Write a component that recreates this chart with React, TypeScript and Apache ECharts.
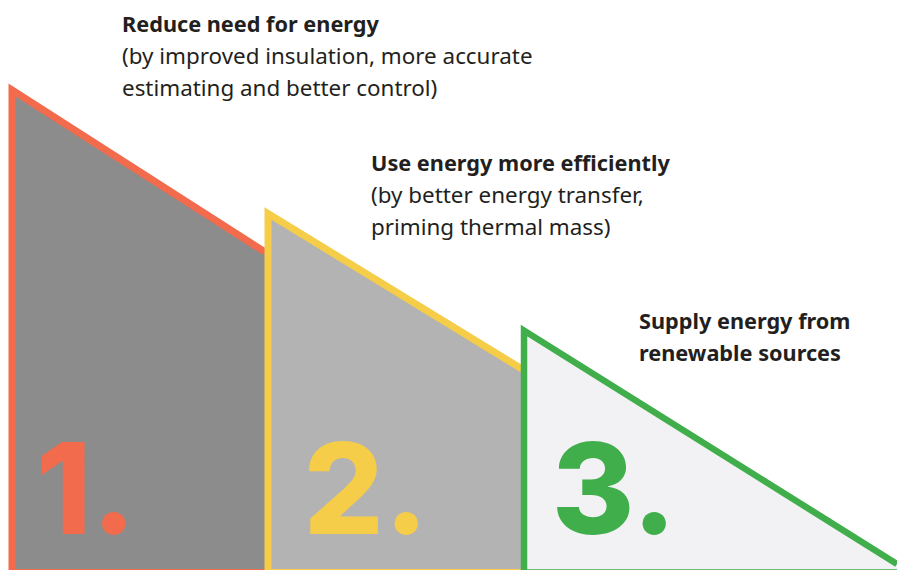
import React, { useEffect, useRef } from "react";
import * as echarts from "echarts";

// Steps of the energy hierarchy
const stepNumbers = ["1.", "2.", "3."];
const headings = ["Reduce need for energy", "Use energy more efficiently", "Supply energy from\nrenewable sources"];
const details = [
  "(by improved insulation, more accurate\nestimating and better control)",
  "(by better energy transfer,\npriming thermal mass)",
  "",
];
// Shape geometry in axis units (x: 0..897, height: 0..570)
const startX = [12, 268, 524];
const startHeight = [480, 356.5, 239.5];
const endX = [265, 522, 897];
const endHeight = [318, 201, 6];

// Layout (positions) kept separately
const headingAnchorX = [122, 371, 639];
const headingAnchorH = [547, 407.5, 250];
const numberCenterX = [86, 366, 614];
const numberAnchorH = 82;

const strokeColors = ["#f26b4d", "#f5cd48", "#40ae4a"];
const fillColors = ["#8c8c8c", "#b3b3b3", "#f2f2f4"];
const strokeWidths = [7, 7, 6.5];
const textColor = "#231f20";
const bodyFont = "'Noto Sans', 'Open Sans', sans-serif";

export default function App() {
  const ref = useRef<HTMLDivElement>(null);
  useEffect(() => {
    if (!ref.current) return;
    const chart = echarts.init(ref.current, undefined, { renderer: "svg" });
    const data = stepNumbers.map((_, i) => [startX[i], startHeight[i], endX[i], endHeight[i]]);
    const bottomValue = -2.5;
    chart.setOption({
      animation: false,
      grid: { left: 0, right: 0, top: 0, bottom: 0 },
      xAxis: { type: "value", min: 0, max: 897, show: false },
      yAxis: { type: "value", min: 0, max: 570, show: false },
      series: [
        {
          type: "custom",
          clip: false,
          data,
          renderItem: (params: any, api: any) => {
            const i = params.dataIndex;
            const x0 = api.value(0);
            const h0 = api.value(1);
            const x1 = api.value(2);
            const h1 = api.value(3);
            const tl = api.coord([x0, h0]);
            const tr = api.coord([x1, h1]);
            const bl = api.coord([x0, bottomValue]);
            const br = api.coord([x1, bottomValue]);
            const hp = api.coord([headingAnchorX[i], headingAnchorH[i]]);
            const np = api.coord([numberCenterX[i], numberAnchorH]);
            const lineH = 32;
            const children: any[] = [
              {
                type: "polygon",
                shape: { points: [bl, tl, tr, br] },
                style: { fill: fillColors[i], stroke: null },
              },
              {
                type: "polyline",
                shape: { points: [br, bl, tl, tr] },
                style: {
                  fill: null,
                  stroke: strokeColors[i],
                  lineWidth: strokeWidths[i],
                  lineJoin: "miter",
                  lineCap: "butt",
                },
              },
              {
                type: "text",
                style: {
                  text: stepNumbers[i],
                  x: np[0],
                  y: np[1],
                  fill: strokeColors[i],
                  fontSize: 126,
                  fontWeight: 800,
                  fontFamily: "Inter, 'Noto Sans', sans-serif",
                  align: "center",
                  verticalAlign: "middle",
                },
              },
              {
                type: "text",
                style: {
                  text: headings[i],
                  x: hp[0],
                  y: hp[1] - lineH / 2,
                  fill: textColor,
                  fontSize: 21.7,
                  fontWeight: "bold",
                  fontFamily: bodyFont,
                  lineHeight: lineH,
                  align: "left",
                  verticalAlign: "top",
                },
              },
            ];
            if (details[i]) {
              children.push({
                type: "text",
                style: {
                  text: details[i],
                  x: hp[0],
                  y: hp[1] + lineH / 2,
                  fill: textColor,
                  fontSize: 22.4,
                  fontWeight: "normal",
                  fontFamily: bodyFont,
                  lineHeight: lineH,
                  align: "left",
                  verticalAlign: "top",
                },
              });
            }
            return { type: "group", children };
          },
        },
      ],
    });
    return () => chart.dispose();
  }, []);
  return (
    <div
      ref={ref}
      style={{ position: "fixed", left: 0, top: 0, width: 897, height: 570, background: "#ffffff" }}
    />
  );
}
